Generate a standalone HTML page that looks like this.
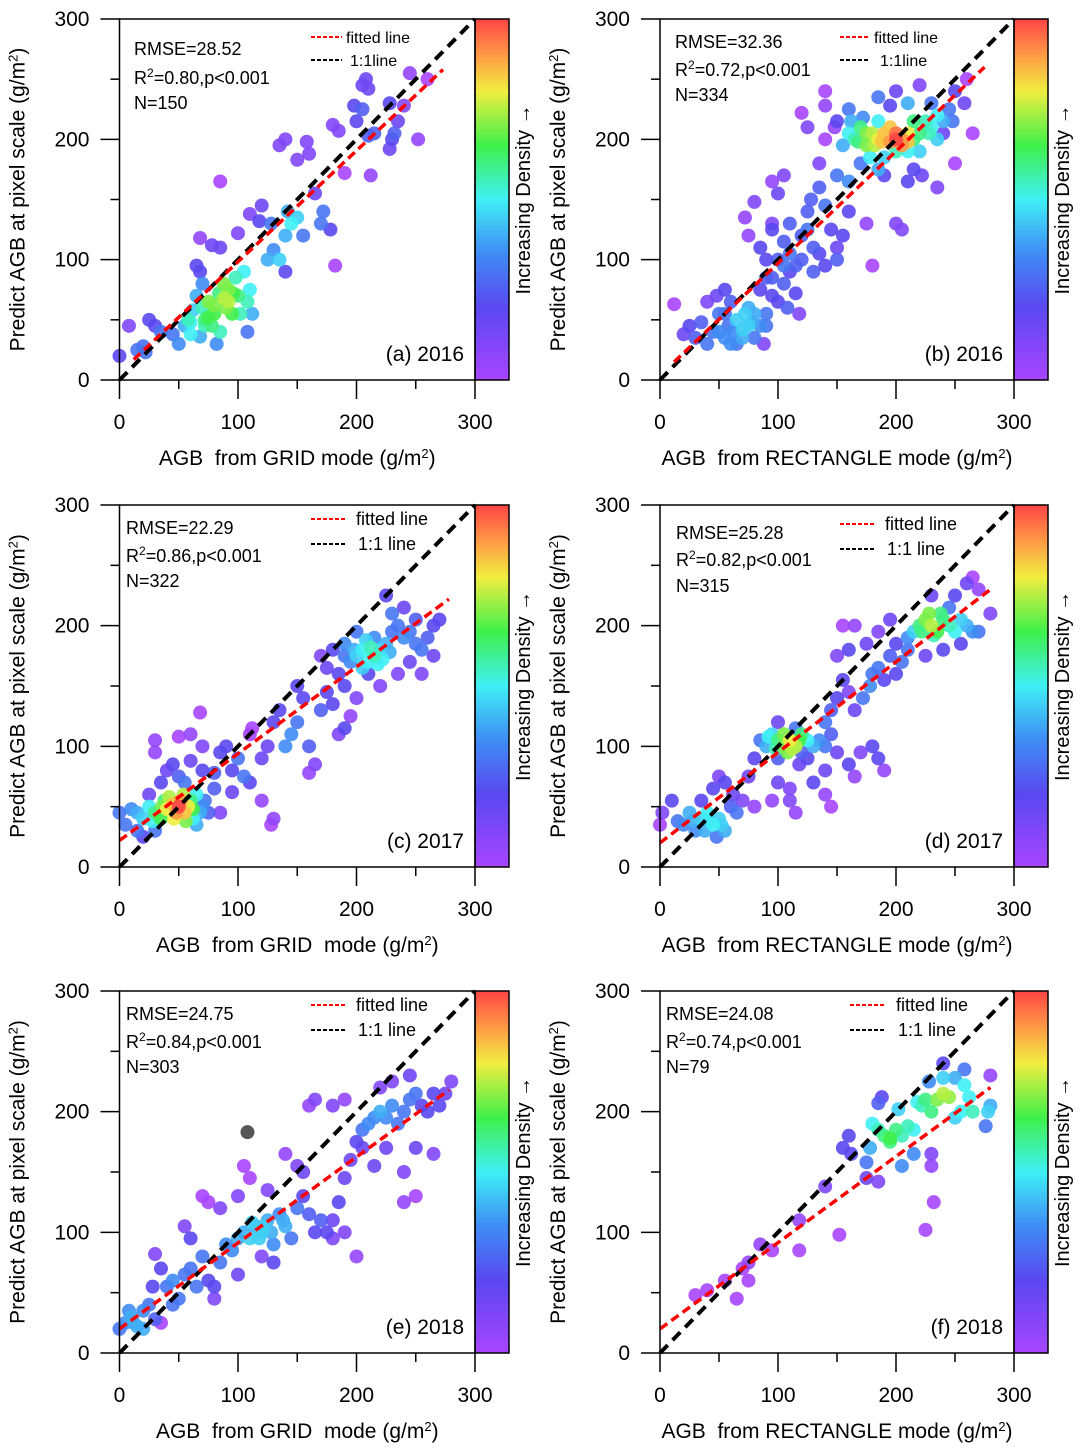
<!DOCTYPE html>
<html><head><meta charset="utf-8"><style>
body{margin:0;background:#fff;}
svg{display:block;font-family:"Liberation Sans",Arial,sans-serif;}
</style></head><body>
<svg id="chart" width="1087" height="1454" viewBox="0 0 1087 1454" xmlns="http://www.w3.org/2000/svg">
<defs>
<linearGradient id="cbgrad" x1="0" y1="1" x2="0" y2="0">
<stop offset="0" stop-color="#a845ff"/><stop offset="0.2" stop-color="#5a48f0"/><stop offset="0.35" stop-color="#3f8cf5"/>
<stop offset="0.5" stop-color="#3ff0f5"/><stop offset="0.65" stop-color="#3ff04a"/><stop offset="0.8" stop-color="#f0ee40"/>
<stop offset="0.9" stop-color="#ff9a45"/><stop offset="1" stop-color="#ff4545"/>
</linearGradient>
</defs>
</svg>
<script>
// Data: [x, y, density(0..1, -1 = outlier grey)]
const pointsA=[[0,20,.2],[8,45,.1],[15,25,.3],[20,28,.3],[25,50,.2],[22,23,.3],[30,45,.2],[35,40,.3],[45,38,.3],[50,30,.35],[55,45,.4],[58,50,.55],[60,38,.5],[62,58,.45],[65,70,.4],[68,36,.4],[70,60,.55],[72,50,.6],[75,65,.7],[78,45,.6],[80,55,.65],[82,30,.35],[84,72,.6],[85,40,.55],[88,68,.75],[90,60,.7],[92,75,.7],[95,55,.65],[98,85,.55],[100,70,.6],[102,55,.55],[105,90,.5],[108,65,.55],[110,75,.5],[112,55,.4],[108,40,.3],[68,90,.2],[70,80,.35],[72,45,.55],[65,95,.2],[78,112,.15],[85,110,.15],[100,122,.1],[68,118,.05],[110,138,.1],[118,132,.2],[120,145,.15],[128,130,.3],[125,100,.4],[130,108,.35],[135,100,.45],[140,120,.4],[142,140,.4],[145,130,.5],[150,135,.45],[155,120,.3],[140,90,.2],[165,155,.15],[170,130,.3],[172,140,.3],[178,125,.2],[85,165,0],[182,95,0],[135,195,.1],[140,200,.1],[150,183,.1],[158,198,.1],[160,188,.1],[180,212,.1],[185,207,.1],[190,172,0],[198,228,.2],[200,215,.2],[205,245,.15],[208,250,.15],[210,242,.15],[205,225,.25],[210,203,.25],[215,205,.25],[212,170,.05],[228,230,.2],[230,200,.2],[232,205,.25],[228,192,.15],[235,215,.15],[240,228,.1],[245,255,.05],[252,200,.05],[260,250,0],[88,80,.7],[92,65,.75],[80,62,.7],[75,52,.65],[96,72,.65],[60,48,.5]];
const pointsB=[[12,63,0],[20,38,.15],[25,45,.2],[30,35,.25],[35,48,.25],[40,30,.3],[45,40,.3],[50,55,.3],[55,35,.35],[58,45,.3],[60,65,.25],[62,40,.35],[65,30,.3],[70,42,.45],[72,55,.45],[75,60,.4],[78,48,.4],[80,35,.3],[85,45,.35],[88,30,.1],[90,55,.3],[48,70,.15],[55,75,.2],[40,65,.1],[85,75,.2],[95,70,.2],[95,85,.25],[100,65,.2],[105,80,.25],[110,90,.2],[115,72,.2],[120,100,.25],[108,60,.25],[118,55,.1],[100,100,.25],[90,100,.2],[85,110,.2],[95,125,.2],[105,115,.25],[110,130,.25],[120,120,.25],[125,140,.25],[130,110,.25],[135,105,.2],[140,95,.2],[150,110,.15],[160,140,.2],[128,150,.25],[135,160,.25],[100,155,.15],[80,148,.1],[72,135,.05],[75,120,.05],[95,130,.1],[140,145,.3],[145,125,.2],[150,100,.25],[155,120,.2],[175,130,.05],[180,95,0],[200,130,.1],[205,125,.1],[170,180,.3],[160,165,.35],[150,170,.3],[185,175,.4],[190,170,.2],[210,165,.2],[215,175,.2],[222,170,.15],[235,160,.1],[250,180,0],[265,205,0],[240,205,.15],[258,230,.15],[250,240,.2],[260,250,0],[248,215,.3],[245,225,.3],[230,210,.5],[225,215,.55],[235,220,.5],[215,200,.6],[210,205,.8],[205,200,.9],[200,205,.95],[195,198,.9],[190,205,.85],[185,200,.8],[180,205,.75],[175,195,.7],[170,210,.6],[165,200,.55],[160,205,.5],[162,215,.4],[172,218,.35],[185,215,.5],[200,190,.55],[210,190,.5],[220,190,.45],[190,185,.45],[178,185,.5],[155,195,.4],[150,215,.2],[140,200,0],[120,222,0],[125,210,.1],[140,228,.05],[160,225,.3],[185,235,.3],[195,228,.2],[200,240,.15],[210,230,.4],[215,215,.6],[230,230,.3],[220,245,.1],[140,240,0],[148,210,.05],[135,180,.1],[105,170,.1],[95,165,.05],[195,210,.85],[205,195,.9],[188,198,.85],[200,200,1],[210,198,.85],[182,195,.75],[175,205,.7],[168,198,.6],[220,205,.6],[228,205,.55],[240,215,.4],[235,200,.45],[65,50,.45],[70,35,.4],[75,45,.45],[80,55,.4],[55,55,.3],[60,30,.35],[50,40,.35],[90,45,.3],[110,105,.3],[115,95,.25],[125,125,.3],[130,90,.25],[105,95,.3],[90,85,.25]];
const pointsC=[[0,45,.3],[5,35,.3],[10,48,.35],[15,30,.3],[20,40,.45],[25,50,.5],[30,45,.6],[35,40,.65],[38,55,.6],[40,48,.8],[45,52,.85],[48,45,.9],[50,50,1],[52,55,.9],[55,45,.85],[58,50,.8],[60,55,.6],[62,40,.5],[65,60,.5],[68,45,.4],[70,50,.35],[72,55,.3],[75,45,.25],[20,25,.2],[30,30,.3],[25,60,.15],[35,70,.2],[40,80,.15],[30,95,.05],[30,105,.05],[45,85,.2],[50,75,.25],[55,70,.3],[60,88,.15],[70,80,.2],[80,65,.25],[85,45,.1],[70,100,.1],[60,110,.05],[50,108,0],[68,128,0],[80,78,.25],[85,95,.2],[90,100,.2],[95,80,.2],[100,90,.3],[105,75,.3],[110,70,.2],[95,62,.15],[120,55,.05],[130,40,.05],[128,35,0],[120,90,.15],[125,100,.15],[130,120,.2],[140,100,.35],[145,110,.35],[150,120,.3],[160,100,.25],[165,85,.1],[160,78,.05],[155,140,.2],[150,150,.2],[135,130,.2],[112,115,0],[110,110,0],[175,145,.2],[170,130,.25],[180,135,.2],[185,110,.1],[190,115,.2],[195,125,.05],[200,140,.1],[190,150,.2],[185,160,.2],[180,180,.2],[170,175,.1],[175,165,.15],[195,170,.35],[200,175,.45],[205,180,.5],[210,170,.5],[215,175,.55],[220,180,.45],[225,185,.4],[190,185,.35],[215,190,.35],[230,195,.3],[235,200,.3],[240,190,.35],[245,195,.3],[250,185,.3],[255,180,.3],[260,190,.25],[265,200,.2],[230,210,.3],[225,225,.2],[240,215,.15],[250,205,.25],[210,160,.2],[235,160,.1],[245,170,.15],[255,160,.1],[265,175,.15],[270,205,.2],[220,150,.1],[190,175,.3],[200,195,.3],[42,58,.75],[46,40,.8],[54,60,.75],[56,38,.7],[36,50,.7],[62,48,.65],[28,38,.5],[15,45,.4],[65,35,.4],[205,165,.45],[212,182,.55],[218,168,.5],[222,172,.5],[198,180,.4],[228,178,.4],[208,188,.45]];
const pointsD=[[0,35,0],[2,45,.1],[10,55,.2],[15,38,.3],[20,35,.35],[25,45,.4],[30,30,.35],[35,40,.45],[40,45,.5],[45,35,.5],[50,40,.45],[55,30,.4],[48,25,.3],[35,55,.2],[45,65,.2],[50,75,.1],[55,70,.2],[60,50,.25],[65,45,.3],[62,60,.15],[70,55,.1],[75,75,.15],[80,90,.2],[85,105,.3],[90,100,.4],[95,110,.45],[100,105,.6],[105,100,.7],[110,105,.8],[115,100,.75],[120,110,.6],[125,105,.5],[130,100,.4],[135,105,.35],[140,100,.3],[145,110,.25],[150,95,.15],[160,85,.2],[165,75,.05],[170,95,.1],[180,100,.2],[185,90,.2],[190,80,.05],[95,55,.05],[100,70,.15],[110,65,.1],[118,85,.15],[125,90,.2],[130,70,.2],[140,60,.05],[145,50,0],[140,80,.15],[110,55,.1],[115,45,.05],[120,95,.25],[100,90,.25],[140,120,.3],[145,130,.25],[150,140,.2],[155,155,.2],[160,145,.1],[165,130,.15],[172,140,.3],[178,150,.35],[180,160,.3],[185,165,.3],[190,155,.2],[195,175,.25],[200,160,.2],[205,170,.3],[200,185,.2],[175,185,.15],[160,180,.2],[150,175,.1],[165,200,.05],[155,200,0],[185,195,.1],[195,205,.15],[210,190,.35],[215,195,.45],[220,200,.6],[225,205,.7],[230,200,.75],[235,195,.65],[240,205,.6],[245,200,.55],[250,195,.5],[255,205,.45],[260,200,.4],[265,195,.35],[245,215,.3],[250,225,.2],[265,240,0],[270,230,.05],[260,235,.15],[230,225,.15],[240,180,.2],[255,185,.2],[270,195,.3],[280,210,.1],[225,175,.15],[210,180,.3],[100,120,.15],[115,115,.3],[80,50,.05],[105,110,.7],[112,98,.75],[108,95,.7],[98,98,.55],[118,105,.65],[92,108,.5],[228,210,.7],[222,195,.6],[238,210,.6],[232,192,.55],[42,38,.45],[38,30,.4],[52,35,.45],[28,38,.4]];
const pointsE=[[0,20,.3],[5,25,.35],[10,30,.4],[15,22,.4],[20,35,.35],[25,40,.3],[30,28,.25],[28,55,.2],[30,82,.1],[35,25,0],[40,55,.3],[45,60,.35],[50,45,.3],[55,65,.3],[60,70,.3],[65,55,.3],[70,80,.3],[75,60,.2],[80,45,.1],[85,75,.3],[90,90,.35],[95,85,.35],[100,95,.4],[105,100,.4],[110,95,.45],[115,105,.4],[120,100,.45],[125,110,.4],[130,90,.35],[135,115,.35],[140,105,.4],[145,95,.3],[150,120,.3],[155,130,.2],[160,115,.25],[165,100,.2],[170,110,.25],[175,100,.2],[180,110,.15],[185,125,.2],[190,145,.15],[195,160,.15],[200,175,.2],[205,185,.3],[210,190,.35],[215,195,.35],[220,200,.4],[225,195,.35],[230,205,.35],[235,190,.3],[240,200,.3],[245,210,.3],[250,215,.3],[255,205,.2],[260,200,.2],[265,215,.2],[270,205,.2],[275,215,.15],[280,225,.1],[245,230,.15],[230,225,.1],[220,220,.1],[190,210,.05],[180,205,.1],[165,210,.1],[160,205,.05],[205,170,.15],[215,155,.15],[225,170,.15],[240,150,.1],[250,170,.15],[240,125,.05],[250,130,0],[265,165,.1],[108,183,-1],[70,130,0],[75,125,0],[85,120,.1],[100,130,.1],[105,155,0],[110,145,0],[125,135,.1],[140,165,.05],[150,155,.1],[155,150,.15],[120,80,.1],[100,65,.15],[80,55,.2],[130,75,.2],[180,95,.1],[190,100,.1],[200,80,.05],[60,95,.2],[55,105,.1],[35,70,.2],[45,40,.3],[20,20,.4],[112,108,.45],[118,95,.45],[122,105,.45],[128,100,.4],[138,110,.4],[12,25,.4],[8,35,.35]];
const pointsF=[[30,48,0],[40,52,0],[55,60,0],[65,45,0],[70,70,0],[75,75,.05],[75,60,0],[85,90,.05],[95,85,0],[118,110,.05],[118,85,0],[140,138,.1],[152,98,0],[155,170,.2],[160,180,.2],[162,165,.2],[175,158,.3],[175,145,.15],[185,142,.1],[178,170,.4],[185,185,.55],[190,180,.6],[195,175,.6],[200,185,.6],[205,180,.55],[210,188,.55],[215,185,.5],[202,202,.45],[205,155,.35],[215,165,.35],[218,208,.5],[222,205,.55],[225,210,.6],[230,200,.6],[235,210,.7],[240,215,.75],[245,212,.72],[250,195,.45],[255,200,.5],[258,222,.5],[262,212,.5],[265,200,.55],[278,200,.45],[280,205,.4],[276,188,.3],[280,230,.05],[258,235,.3],[250,228,.4],[240,240,.2],[228,225,.35],[185,207,.25],[188,212,.2],[230,165,.1],[230,155,.05],[232,125,0],[225,102,0],[195,178,.65],[180,190,.5],[240,228,.45]];
const fitA=[12,17,273,258], fitB=[12,15,275,260], fitC=[0,22,278,222], fitD=[0,20,280,230], fitE=[0,20,278,218], fitF=[0,20,280,220];

const svg=document.getElementById('chart');
const NS='http://www.w3.org/2000/svg';
function mk(tag,attrs,parent){const e=document.createElementNS(NS,tag);for(const k in attrs)e.setAttribute(k,attrs[k]);(parent||svg).appendChild(e);return e;}
const stops=[[0,[168,69,255]],[.2,[90,72,240]],[.35,[63,140,245]],[.5,[63,240,245]],[.65,[63,240,74]],[.8,[240,238,64]],[.9,[255,154,69]],[1,[255,69,69]]];
function dcol(d){if(d<0)return '#444';for(let i=1;i<stops.length;i++){if(d<=stops[i][0]){const a=stops[i-1],b=stops[i];const t=(d-a[0])/(b[0]-a[0]);const c=a[1].map((v,j)=>Math.round(v+(b[1][j]-v)*t));return 'rgb('+c.join(',')+')';}}return 'rgb(255,69,69)';}

const panels=[
{id:'a',pts:pointsA,fit:fitA,x0:119.5,x1:475,y0:380,y1:19,xlab:'AGB\u00a0\u00a0from GRID mode (g/m',stats:['RMSE=28.52','0.80,p<0.001','N=150'],sx:134,sy:[55,84,109],lx:[311,342,346,350],ly:[37,60],leg2:'1:1line',lab:'(a) 2016',fs:18,lfs:16},
{id:'b',pts:pointsB,fit:fitB,x0:660,x1:1014,y0:380,y1:19,xlab:'AGB\u00a0\u00a0from RECTANGLE mode (g/m',stats:['RMSE=32.36','0.72,p<0.001','N=334'],sx:675,sy:[48,76,101],lx:[840,870,874,880],ly:[37,60],leg2:'1:1line',lab:'(b) 2016',fs:18,lfs:16},
{id:'c',pts:pointsC,fit:fitC,x0:119.5,x1:475,y0:867,y1:505,xlab:'AGB\u00a0\u00a0from GRID\u00a0\u00a0mode (g/m',stats:['RMSE=22.29','0.86,p<0.001','N=322'],sx:126,sy:[534,562,587],lx:[311,345,356,358],ly:[519,544],leg2:'1:1 line',lab:'(c) 2017',fs:18,lfs:18},
{id:'d',pts:pointsD,fit:fitD,x0:660,x1:1014,y0:867,y1:505,xlab:'AGB\u00a0\u00a0from RECTANGLE mode (g/m',stats:['RMSE=25.28','0.82,p<0.001','N=315'],sx:676,sy:[539,566,592],lx:[840,875,885,887],ly:[524,549],leg2:'1:1 line',lab:'(d) 2017',fs:18,lfs:18},
{id:'e',pts:pointsE,fit:fitE,x0:119.5,x1:475,y0:1353,y1:991,xlab:'AGB\u00a0\u00a0from GRID\u00a0\u00a0mode (g/m',stats:['RMSE=24.75','0.84,p<0.001','N=303'],sx:126,sy:[1020,1048,1073],lx:[311,345,356,358],ly:[1005,1030],leg2:'1:1 line',lab:'(e) 2018',fs:18,lfs:18},
{id:'f',pts:pointsF,fit:fitF,x0:660,x1:1014,y0:1353,y1:991,xlab:'AGB\u00a0\u00a0from RECTANGLE mode (g/m',stats:['RMSE=24.08','0.74,p<0.001','N=79'],sx:666,sy:[1020,1048,1073],lx:[850,885,896,898],ly:[1005,1030],leg2:'1:1 line',lab:'(f) 2018',fs:18,lfs:18}
];
const ticks=[0,100,200,300], minor=[50,150,250];

panels.forEach(p=>{
  const g=mk('g',{});
  
  
  const X=v=>p.x0+(p.x1-p.x0)*v/300, Y=v=>p.y0+(p.y1-p.y0)*v/300;
  const cx=(p.x0+p.x1)/2, cy=(p.y0+p.y1)/2;
  const cb=mk('rect',{x:p.x1,y:p.y1,width:34,height:p.y0-p.y1,fill:'url(#cbgrad)',stroke:'#000','stroke-width':1.5},g);
  
  
  const cbt=mk('text',{x:0,y:0,'font-size':20,'text-anchor':'middle',transform:`translate(${p.x1+55},${cy}) rotate(-90)`},g);
  cbt.textContent='Increasing Density \u2192';
  
  
  const pg=mk('g',{},g);
  
  
  const sorted=p.pts.slice().sort((a,b)=>a[2]-b[2]);
  sorted.forEach(d=>{
    const c=mk('circle',{cx:X(d[0]),cy:Y(d[1]),r:7,fill:dcol(d[2]),'fill-opacity':0.9},pg);
    
    
  });
  const one=mk('line',{x1:X(0),y1:Y(0),x2:X(300),y2:Y(300),stroke:'#000','stroke-width':4,'stroke-dasharray':'11 7'},g);
  
  
  const fl=mk('line',{x1:X(p.fit[0]),y1:Y(p.fit[1]),x2:X(p.fit[2]),y2:Y(p.fit[3]),stroke:'#f00','stroke-width':3.5,'stroke-dasharray':'9 5'},g);
  
  
  const fr=mk('rect',{x:p.x0,y:p.y1,width:p.x1-p.x0,height:p.y0-p.y1,fill:'none',stroke:'#000','stroke-width':1.5},g);
  
  
  ticks.forEach(t=>{
    mk('line',{x1:p.x0-19,x2:p.x0,y1:Y(t),y2:Y(t),stroke:'#000','stroke-width':1.5},g);
    mk('line',{x1:X(t),x2:X(t),y1:p.y0,y2:p.y0+19,stroke:'#000','stroke-width':1.5},g);
    const yl=mk('text',{x:p.x0-30,y:Y(t)+7,'font-size':21,'text-anchor':'end'},g);
    yl.textContent=t;
    
    
    const xl=mk('text',{x:X(t),y:p.y0+49,'font-size':21,'text-anchor':'middle'},g);
    xl.textContent=t;
    
    
  });
  minor.forEach(t=>{
    mk('line',{x1:p.x0-9,x2:p.x0,y1:Y(t),y2:Y(t),stroke:'#000','stroke-width':1.5},g);
    mk('line',{x1:X(t),x2:X(t),y1:p.y0,y2:p.y0+9,stroke:'#000','stroke-width':1.5},g);
  });
  const xt=mk('text',{x:cx,y:p.y0+85,'font-size':21,'text-anchor':'middle'},g);
  xt.innerHTML=p.xlab+'<tspan baseline-shift="super" font-size="13">2</tspan>)';
  
  
  const yt=mk('text',{x:0,y:0,'font-size':21,'text-anchor':'middle',transform:`translate(${p.x0-95},${cy}) rotate(-90)`},g);
  yt.innerHTML='Predict AGB at pixel scale (g/m<tspan baseline-shift="super" font-size="13">2</tspan>)';
  
  
  const s1=mk('text',{x:p.sx,y:p.sy[0],'font-size':p.fs},g); s1.textContent=p.stats[0];
  
  
  const s2=mk('text',{x:p.sx,y:p.sy[1],'font-size':p.fs},g);
  s2.innerHTML='R<tspan baseline-shift="super" font-size="12">2</tspan>='+p.stats[1].replace('<','&lt;');
  
  
  const s3=mk('text',{x:p.sx,y:p.sy[2],'font-size':p.fs},g); s3.textContent=p.stats[2];
  
  
  const lg=mk('g',{},g);
  
  
  mk('line',{x1:p.lx[0],x2:p.lx[1],y1:p.ly[0],y2:p.ly[0],stroke:'#f00','stroke-width':2,'stroke-dasharray':'4 2'},lg);
  const l1=mk('text',{x:p.lx[2],y:p.ly[0]+6,'font-size':p.lfs},lg); l1.textContent='fitted line';
  
  
  mk('line',{x1:p.lx[0],x2:p.lx[1],y1:p.ly[1],y2:p.ly[1],stroke:'#000','stroke-width':2,'stroke-dasharray':'4 2'},lg);
  const l2=mk('text',{x:p.lx[3],y:p.ly[1]+6,'font-size':p.lfs},lg); l2.textContent=p.leg2;
  
  
  const pl=mk('text',{x:p.x1-11,y:p.y0-19,'font-size':21,'text-anchor':'end'},g); pl.textContent=p.lab;
  
  
});
</script>
</body></html>
